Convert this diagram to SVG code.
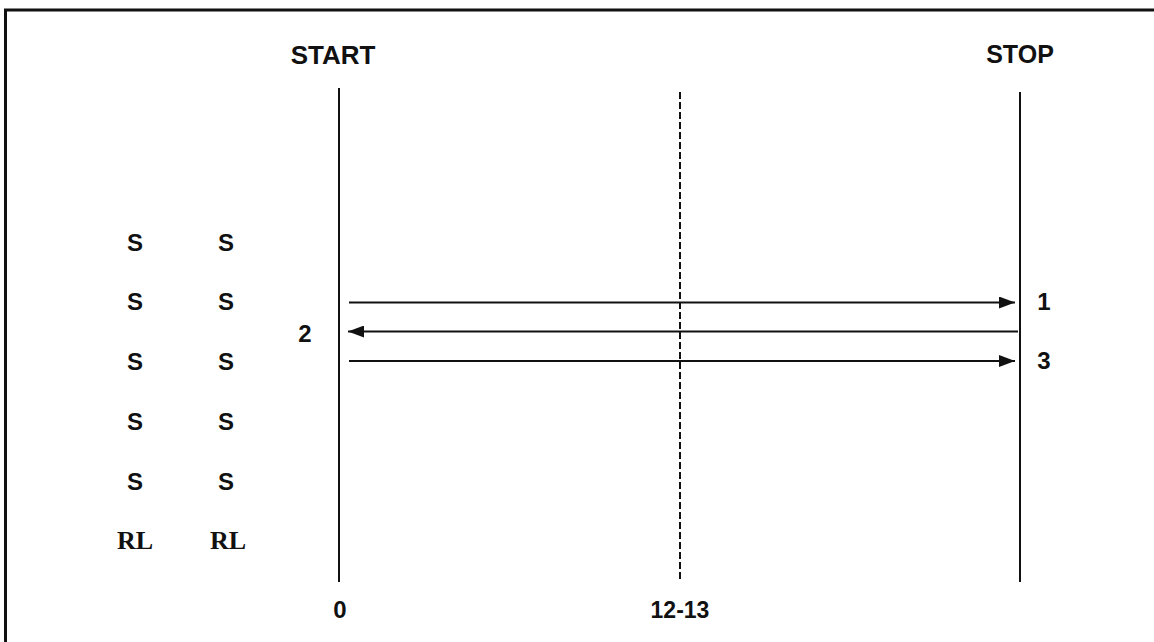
<svg xmlns="http://www.w3.org/2000/svg" width="1154" height="642" viewBox="0 0 1154 642">
<style>
.sans{font-family:"Liberation Sans",Arial,sans-serif;font-weight:bold;fill:#111;text-anchor:middle}
.serif{font-family:"Liberation Serif","Times New Roman",serif;font-weight:bold;fill:#111;text-anchor:middle}
.ln{stroke:#111;stroke-width:2;fill:none}
</style>
<defs>
<marker id="ah" markerWidth="16" markerHeight="12" refX="16" refY="6" orient="auto" markerUnits="userSpaceOnUse">
<path d="M0,0 L16,6 L0,12 Z" fill="#111"/>
</marker>
</defs>
<rect width="1154" height="642" fill="#fff"/>
<path d="M5.5,642 V10 H1154" stroke="#111" stroke-width="3" fill="none"/>
<g id="start-line">
<line class="ln" x1="339" y1="88" x2="339" y2="582"/>
<text class="sans" x="333" y="64" font-size="26">START</text>
<text class="sans" x="340" y="618" font-size="24">0</text>
</g>
<g id="mid-line">
<line class="ln" x1="680" y1="92" x2="680" y2="582" stroke-dasharray="7,3"/>
<text class="sans" x="680" y="618" font-size="23">12-13</text>
</g>
<g id="stop-line">
<line class="ln" x1="1020" y1="92" x2="1020" y2="582"/>
<text class="sans" x="1020" y="63" font-size="25">STOP</text>
</g>
<g id="connectors">
<line class="ln" x1="349" y1="302.5" x2="1015" y2="302.5" marker-end="url(#ah)"/>
<line class="ln" x1="1018" y1="331.5" x2="348" y2="331.5" marker-end="url(#ah)"/>
<line class="ln" x1="349" y1="361" x2="1015" y2="361" marker-end="url(#ah)"/>
</g>
<g id="labels">
<text class="sans" x="1044" y="310" font-size="24">1</text>
<text class="sans" x="305" y="342" font-size="24">2</text>
<text class="sans" x="1044" y="369" font-size="24">3</text>
</g>
<g id="col1">
<text class="sans" x="135" y="251" font-size="24">S</text>
<text class="sans" x="135" y="310" font-size="24">S</text>
<text class="sans" x="135" y="370" font-size="24">S</text>
<text class="sans" x="135" y="430" font-size="24">S</text>
<text class="sans" x="135" y="490" font-size="24">S</text>
<text class="serif" x="135" y="549" font-size="26">RL</text>
</g>
<g id="col2">
<text class="sans" x="226" y="251" font-size="24">S</text>
<text class="sans" x="226" y="310" font-size="24">S</text>
<text class="sans" x="226" y="370" font-size="24">S</text>
<text class="sans" x="226" y="430" font-size="24">S</text>
<text class="sans" x="226" y="490" font-size="24">S</text>
<text class="serif" x="228" y="549" font-size="26">RL</text>
</g>
</svg>
